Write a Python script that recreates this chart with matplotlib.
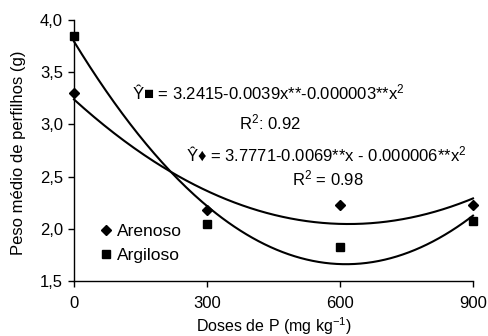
import numpy as np
import matplotlib
matplotlib.use("Agg")
import matplotlib.pyplot as plt

plt.rcParams['font.family'] = ['Liberation Sans', 'DejaVu Sans']
plt.rcParams['mathtext.fontset'] = 'custom'
plt.rcParams['mathtext.rm'] = 'Liberation Sans'
plt.rcParams['mathtext.it'] = 'Liberation Sans:italic'

# dados
doses = [0, 300, 600, 900]
arenoso = [3.30, 2.18, 2.23, 2.23]
argiloso = [3.85, 2.05, 1.83, 2.07]
y_ticks = [1.5, 2.0, 2.5, 3.0, 3.5, 4.0]
y_tick_labels = ['1,5', '2,0', '2,5', '3,0', '3,5', '4,0']
x_ticks = [0, 300, 600, 900]

W, H = 488, 336
fig = plt.figure(figsize=(W / 100, H / 100), dpi=100)
ax = fig.add_axes([74 / W, 1 - 281 / H, (473 - 74) / W, (281 - 20) / H])

# linhas de tendencia polinomiais (2a ordem)
xx = np.linspace(0, 900, 200)
for ys in (arenoso, argiloso):
    coef = np.polyfit(doses, ys, 2)
    ax.plot(xx, np.polyval(coef, xx), color='black', lw=1.5, clip_on=False)

h1, = ax.plot(doses, arenoso, 'D', color='black', ms=5, clip_on=False, zorder=5)
h2, = ax.plot(doses, argiloso, 's', color='black', ms=6, clip_on=False, zorder=5)

ax.set_xlim(0, 900)
ax.set_ylim(1.5, 4.0)
ax.set_xticks(x_ticks)
ax.set_yticks(y_ticks)
ax.set_yticklabels(y_tick_labels)
ax.tick_params(direction='out', length=4, width=1, labelsize=12, pad=4)
ax.tick_params(axis='x', pad=7)
for s in ('top', 'right'):
    ax.spines[s].set_visible(False)
for s in ('left', 'bottom'):
    ax.spines[s].set_linewidth(1)

ax.set_xlabel('Doses de P (mg kg$^{-1}$)', fontsize=11.5, va='center')
ax.xaxis.set_label_coords(0.5, (281 - 326) / 261)
ax.set_ylabel('Peso médio de perfilhos (g)', fontsize=12, va='center')
ax.yaxis.set_label_coords((19 - 74) / 399, (281 - 153) / 261)


def ftext(px, py, s):
    fig.text(px / W, 1 - py / H, s, ha='center', va='center', fontsize=12)


# equacoes (posicoes em pixels)
ftext(268, 93, 'Ŷ■ = 3.2415-0.0039x**-0.000003**x$^2$')
ftext(270, 122, 'R$^2$: 0.92')
ftext(326, 155, 'Ŷ♦ = 3.7771-0.0069**x - 0.000006**x$^2$')
ftext(328, 178, 'R$^2$ = 0.98')

# legenda
ax.legend([h1, h2], ['Arenoso', 'Argiloso'], loc='lower left', bbox_to_anchor=(0.066, 0.07),
          frameon=False, fontsize=12.5, handlelength=0.6, handletextpad=0.35,
          labelspacing=0.5, borderaxespad=0, borderpad=0)

plt.savefig('out.png', dpi=100)
